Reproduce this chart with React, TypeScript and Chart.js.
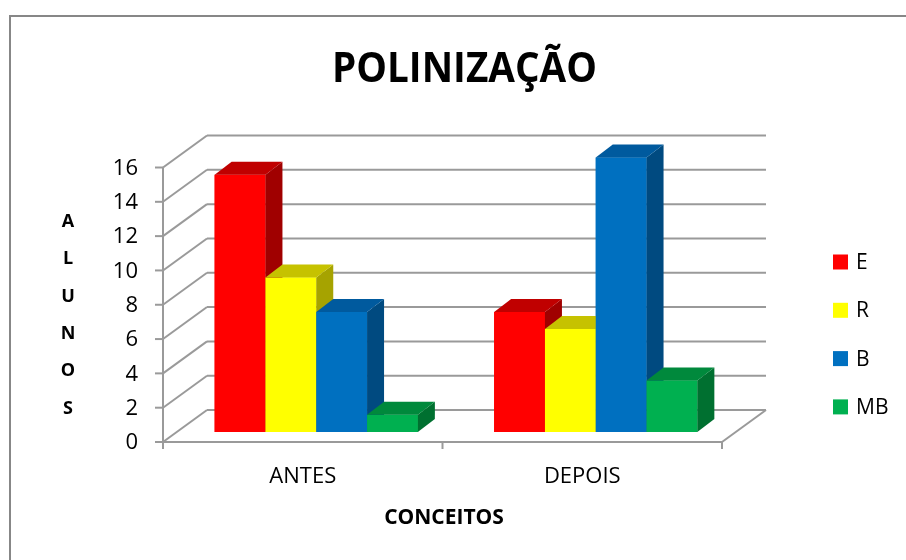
import React, { useEffect, useRef } from "react";
import { Chart, registerables } from "chart.js";

Chart.register(...registerables);

// ---- data ----
const categories = ["ANTES", "DEPOIS"];
const seriesNames = ["E", "R", "B", "MB"];
const E = [15, 7];
const R = [9, 6];
const B = [7, 16];
const MB = [1, 3];
const yTicks = [0, 2, 4, 6, 8, 10, 12, 14, 16];
const chartTitle = "POLINIZAÇÃO";
const yTitleLetters = ["A", "L", "U", "N", "O", "S"];
const xTitle = "CONCEITOS";

// ---- style ----
const frontColors = ["#ff0000", "#ffff00", "#0070c0", "#00b050"];
const topColors = ["#c00000", "#c6c200", "#005a9e", "#00893c"];
const sideColors = ["#a00000", "#a6a300", "#004a80", "#007030"];

const W = 906;
const H = 560;
const AX_L = 163;
const AX_R = 722;
const AX_T = 167.5;
const AX_B = 442;
const WALL_DX = 44;
const WALL_DY = -32;
const BAR_DX = 13.5;
const BAR_DY = -10;
const FACE_DX = 17;
const FACE_DY = -13;
const GRID = "#9a9a9a";
const FONT = "'Open Sans', 'DejaVu Sans', sans-serif";

function line(ctx: CanvasRenderingContext2D, x1: number, y1: number, x2: number, y2: number) {
  ctx.beginPath();
  ctx.moveTo(x1, y1);
  ctx.lineTo(x2, y2);
  ctx.stroke();
}

function poly(ctx: CanvasRenderingContext2D, pts: number[][], color: string) {
  ctx.beginPath();
  ctx.moveTo(pts[0][0], pts[0][1]);
  for (let i = 1; i < pts.length; i++) ctx.lineTo(pts[i][0], pts[i][1]);
  ctx.closePath();
  ctx.fillStyle = color;
  ctx.fill();
}

const threeDPlugin = {
  id: "threeD",
  beforeDraw(chart: any) {
    const ctx: CanvasRenderingContext2D = chart.ctx;
    const ys = chart.scales.y;
    const xs = chart.scales.x;
    ctx.save();
    ctx.fillStyle = "#ffffff";
    ctx.fillRect(0, 0, W, H);

    // outer frame
    ctx.strokeStyle = "#878787";
    ctx.lineWidth = 2;
    ctx.beginPath();
    ctx.moveTo(10, H + 5);
    ctx.lineTo(10, 16);
    ctx.lineTo(W + 5, 16);
    ctx.stroke();

    // walls & grid
    ctx.strokeStyle = GRID;
    ctx.lineWidth = 2;
    const left = xs.left;
    const right = xs.right;
    yTicks.forEach((v) => {
      const y = ys.getPixelForValue(v);
      line(ctx, left, y, left + WALL_DX, y + WALL_DY);
      line(ctx, left + WALL_DX, y + WALL_DY, right + WALL_DX, y + WALL_DY);
      line(ctx, left - 8, y, left, y);
    });
    const y0 = ys.getPixelForValue(0);
    const yTop = ys.getPixelForValue(yTicks[yTicks.length - 1]);
    line(ctx, left, y0, left, yTop);
    line(ctx, left, y0, right, y0);
    line(ctx, right, y0, right + WALL_DX, y0 + WALL_DY);
    // category ticks
    const n = categories.length;
    for (let i = 0; i <= n; i++) {
      const x = left + ((right - left) * i) / n;
      line(ctx, x, y0, x, y0 + 7);
    }

    // tick labels
    ctx.fillStyle = "#000000";
    ctx.font = `22px ${FONT}`;
    ctx.textAlign = "right";
    ctx.textBaseline = "middle";
    yTicks.forEach((v) => {
      ctx.fillText(String(v), 138, ys.getPixelForValue(v) + 1);
    });
    ctx.textAlign = "center";
    categories.forEach((c, i) => {
      ctx.fillText(c, xs.getPixelForValue(i), 477);
    });

    // title
    ctx.font = `bold 42px ${FONT}`;
    ctx.textBaseline = "alphabetic";
    const tw = ctx.measureText(chartTitle).width;
    ctx.save();
    ctx.translate(464.5, 82);
    ctx.scale(265 / tw, 1);
    ctx.textAlign = "center";
    ctx.fillText(chartTitle, 0, 0);
    ctx.restore();

    // axis titles
    ctx.font = `bold 18px ${FONT}`;
    ctx.textAlign = "center";
    ctx.textBaseline = "middle";
    yTitleLetters.forEach((ch, i) => {
      ctx.fillText(ch, 68, 222 + i * 37.3);
    });
    ctx.font = `bold 21px ${FONT}`;
    const xw = ctx.measureText(xTitle).width;
    ctx.save();
    ctx.translate(444, 518);
    ctx.scale(Math.min(1, 122 / xw), 1);
    ctx.fillText(xTitle, 0, 0);
    ctx.restore();

    // legend
    ctx.font = `21px ${FONT}`;
    ctx.textAlign = "left";
    chart.data.datasets.forEach((ds: any, i: number) => {
      const cy = 262 + i * 48.3;
      ctx.fillStyle = ds.backgroundColor;
      ctx.fillRect(833, cy - 7.5, 15, 15);
      ctx.fillStyle = "#000000";
      ctx.fillText(ds.label, 856, cy + 1);
    });
    ctx.restore();
  },
  beforeDatasetsDraw(chart: any) {
    chart.ctx.save();
    chart.ctx.translate(BAR_DX, BAR_DY);
  },
  afterDatasetsDraw(chart: any) {
    const ctx: CanvasRenderingContext2D = chart.ctx;
    const nds = chart.data.datasets.length;
    categories.forEach((_, j) => {
      for (let i = 0; i < nds; i++) {
        const el = chart.getDatasetMeta(i).data[j];
        const p = el.getProps(["x", "y", "base", "width"], true);
        const l = p.x - p.width / 2;
        const r = p.x + p.width / 2;
        poly(ctx, [[l, p.y], [r, p.y], [r, p.base], [l, p.base]], frontColors[i]);
        poly(ctx, [[r, p.y], [r + FACE_DX, p.y + FACE_DY], [r + FACE_DX, p.base + FACE_DY], [r, p.base]], sideColors[i]);
        poly(ctx, [[l, p.y], [l + FACE_DX, p.y + FACE_DY], [r + FACE_DX, p.y + FACE_DY], [r, p.y]], topColors[i]);
      }
    });
    ctx.restore();
  },
};

export default function App() {
  const ref = useRef<HTMLCanvasElement | null>(null);
  useEffect(() => {
    if (!ref.current) return;
    const seriesValues = [E, R, B, MB];
    const chart = new Chart(ref.current, {
      type: "bar",
      data: {
        labels: categories,
        datasets: seriesNames.map((name, i) => ({
          label: name,
          data: seriesValues[i],
          backgroundColor: frontColors[i],
          borderWidth: 0,
          clip: false as any,
          barPercentage: 1,
          categoryPercentage: 0.727,
        })),
      },
      options: {
        responsive: false,
        animation: false,
        devicePixelRatio: 1,
        layout: { padding: { left: AX_L, right: W - AX_R, top: AX_T, bottom: H - AX_B } },
        plugins: { legend: { display: false }, tooltip: { enabled: false }, title: { display: false } },
        scales: {
          x: { display: false },
          y: { display: false, min: 0, max: 16 },
        },
      },
      plugins: [threeDPlugin],
    });
    return () => chart.destroy();
  }, []);
  return (
    <div style={{ position: "fixed", left: 0, top: 0, width: W, height: H, background: "#fff" }}>
      <canvas ref={ref} width={W} height={H} style={{ display: "block" }} />
    </div>
  );
}
